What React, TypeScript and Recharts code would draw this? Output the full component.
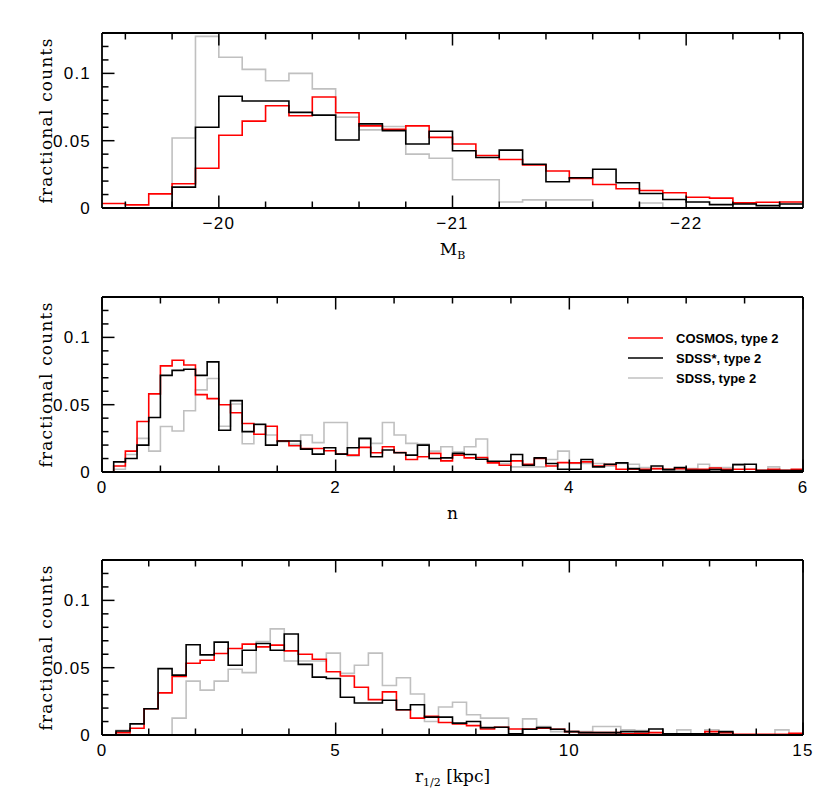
import React from 'react';
import { LineChart, Line, XAxis, YAxis, Legend } from 'recharts';

// ---------- series meta ----------
const SERIES_KEYS = ['cosmos', 'sdssStar', 'sdss'];
const SERIES_NAMES: Record<string, string> = {
  cosmos: 'COSMOS, type 2',
  sdssStar: 'SDSS*, type 2',
  sdss: 'SDSS, type 2',
};
const SERIES_COLORS: Record<string, string> = {
  cosmos: '#ff0000',
  sdssStar: '#000000',
  sdss: '#c0c0c0',
};
const DRAW_ORDER = ['sdss', 'cosmos', 'sdssStar'];

// ---------- panel 1 : M_B (bins of 0.1 mag, from -19.5 to -22.5) ----------
const MB_BIN_START = -19.5;
const MB_BIN_WIDTH = -0.1;
const MB_COSMOS = [0.0033, 0.0023, 0.0105, 0.018, 0.0295, 0.054, 0.0645, 0.076, 0.0685, 0.0825,
  0.0708, 0.061, 0.0585, 0.061, 0.0525, 0.0475, 0.039, 0.036, 0.032, 0.0275,
  0.022, 0.0175, 0.0143, 0.013, 0.0113, 0.008, 0.0073, 0.0038, 0.0043, 0.0045];
const MB_SDSS_STAR = [0, 0, 0, 0.0155, 0.06, 0.083, 0.0795, 0.0795, 0.071, 0.069,
  0.0505, 0.0625, 0.0575, 0.0475, 0.057, 0.0425, 0.0375, 0.043, 0.0325, 0.0195,
  0.0225, 0.0288, 0.0188, 0.0108, 0.0063, 0.0045, 0.0025, 0.003, 0.0018, 0.003];
const MB_SDSS = [0, 0, 0, 0.052, 0.1275, 0.112, 0.103, 0.0945, 0.1, 0.0885,
  0.0675, 0.058, 0.0605, 0.04, 0.037, 0.021, 0.021, 0.0045, 0.006, 0.006,
  0.006, 0, 0, 0.0037, 0, 0, 0, 0, 0, 0];
const MB_DOMAIN = [-22.5, -19.5];
const MB_TICKS = [-19.6, -19.8, -20, -20.2, -20.4, -20.6, -20.8, -21, -21.2, -21.4, -21.6, -21.8, -22, -22.2, -22.4];
const MB_MAJOR = [-20, -21, -22];
const MB_LABELS = ['\u221220', '\u221221', '\u221222'];

// ---------- panel 2 : Sersic n (bins of 0.1, from 0 to 6) ----------
const N_BIN_START = 0;
const N_BIN_WIDTH = 0.1;
const N_COSMOS = [0, 0.0045, 0.0155, 0.0375, 0.058, 0.0788, 0.083, 0.0795, 0.0575, 0.0545,
  0.05, 0.044, 0.036, 0.028, 0.034, 0.023, 0.0195, 0.0175, 0.0175, 0.0158,
  0.0133, 0.0125, 0.0183, 0.0143, 0.0188, 0.0145, 0.0093, 0.0113, 0.0138, 0.0083,
  0.0125, 0.0105, 0.0108, 0.0068, 0.005, 0.0083, 0.0058, 0.01, 0.0045, 0.007,
  0.0068, 0.0075, 0.0045, 0.0055, 0.002, 0.002, 0.002, 0.0025, 0.002, 0.0025,
  0.002, 0.002, 0.003, 0.002, 0.002, 0.002, 0.0013, 0.002, 0.0013, 0.002];
const N_SDSS_STAR = [0, 0.0075, 0.01, 0.02, 0.0405, 0.0718, 0.0755, 0.0763, 0.0718, 0.0818,
  0.031, 0.053, 0.03, 0.0355, 0.02, 0.023, 0.023, 0.017, 0.0133, 0.018,
  0.0133, 0.018, 0.025, 0.0113, 0.0163, 0.0143, 0.0125, 0.02, 0.01, 0.0105,
  0.0138, 0.013, 0.0095, 0.008, 0.008, 0.013, 0.005, 0.0105, 0.0063, 0.002,
  0.002, 0.0093, 0.0038, 0.0058, 0.0068, 0.0025, 0.0013, 0.0045, 0.0018, 0.0033,
  0.0013, 0.0013, 0.0018, 0.0013, 0.0055, 0.0058, 0.001, 0.001, 0.001, 0.001];
const N_SDSS = [0, 0.002, 0.013, 0.025, 0.0155, 0.0338, 0.0305, 0.0455, 0.061, 0.0695,
  0.034, 0.0505, 0.021, 0.035, 0.0275, 0.0225, 0.0205, 0.0275, 0.0218, 0.0368,
  0.0368, 0.012, 0.0245, 0.0213, 0.0368, 0.0275, 0.0213, 0.0208, 0.0155, 0.0188,
  0.015, 0.0188, 0.0245, 0.0075, 0.0063, 0.0038, 0.0038, 0.0038, 0.0093, 0.0155,
  0.0063, 0.0063, 0.0063, 0.0043, 0.0063, 0.0058, 0.0033, 0.002, 0.0013, 0.0013,
  0.0025, 0.0058, 0.0033, 0.0033, 0.0058, 0.002, 0.001, 0.0038, 0.001, 0.001];
const N_DOMAIN = [0, 6];
const N_TICKS = [0, 0.5, 1, 1.5, 2, 2.5, 3, 3.5, 4, 4.5, 5, 5.5, 6];
const N_MAJOR = [0, 2, 4, 6];
const N_LABELS = ['0', '2', '4', '6'];

// ---------- panel 3 : r_1/2 (bins of 0.3 kpc, from 0 to 15) ----------
const R_BIN_START = 0;
const R_BIN_WIDTH = 0.3;
const R_COSMOS = [0, 0.0018, 0.005, 0.0195, 0.0313, 0.0435, 0.0533, 0.0555, 0.0605, 0.0643,
  0.0675, 0.0655, 0.0668, 0.0625, 0.06, 0.0563, 0.047, 0.0438, 0.0355, 0.0263,
  0.032, 0.0188, 0.0125, 0.0138, 0.0093, 0.0083, 0.007, 0.0045, 0.0058, 0.0045,
  0.0045, 0.005, 0.0043, 0.0025, 0.0018, 0.0018, 0.0018, 0.0008, 0.0013, 0.0018,
  0.0008, 0.0008, 0.0008, 0.0025, 0.0018, 0.0005, 0.0005, 0.0005, 0.0005, 0.0013];
const R_SDSS_STAR = [0, 0.003, 0.0083, 0.0195, 0.0493, 0.0445, 0.067, 0.0595, 0.069, 0.0518,
  0.063, 0.068, 0.063, 0.075, 0.0525, 0.043, 0.042, 0.028, 0.0238, 0.0238,
  0.0258, 0.0188, 0.0225, 0.0133, 0.0133, 0.0088, 0.01, 0.0055, 0.0058, 0.0008,
  0.0043, 0.0055, 0.0043, 0.0025, 0.0018, 0.0018, 0.0018, 0.0025, 0.0025, 0.0045,
  0.0008, 0.0008, 0.0008, 0.0008, 0.0025, 0, 0, 0, 0, 0];
const R_SDSS = [0, 0.0035, 0, 0, 0, 0.0125, 0.04, 0.0333, 0.04, 0.0488,
  0.0463, 0.0695, 0.0788, 0.055, 0.055, 0.055, 0.0608, 0.0458, 0.0518, 0.0608,
  0.0368, 0.0425, 0.0305, 0.01, 0.0208, 0.0243, 0.015, 0.0125, 0.0125, 0.0008,
  0.012, 0.0063, 0.0025, 0.0025, 0.0025, 0.0063, 0.0063, 0.0038, 0.0033, 0.0018,
  0.0008, 0.0038, 0.0008, 0.0038, 0.0008, 0, 0, 0, 0.0038, 0];
const R_DOMAIN = [0, 15];
const R_TICKS = [0, 1, 2, 3, 4, 5, 6, 7, 8, 9, 10, 11, 12, 13, 14, 15];
const R_MAJOR = [0, 5, 10, 15];
const R_LABELS = ['0', '5', '10', '15'];

// ---------- y axis (shared) ----------
const Y_DOMAIN = [0, 0.13];
const Y_TICKS = [0, 0.01, 0.02, 0.03, 0.04, 0.05, 0.06, 0.07, 0.08, 0.09, 0.1, 0.11, 0.12, 0.13];
const Y_MAJOR = [0, 0.05, 0.1];
const Y_LABELS = ['0', '0.05', '0.1'];

// ---------- helpers ----------
function buildRows(start: number, width: number, cosmos: number[], star: number[], sdss: number[]) {
  const n = cosmos.length;
  const rows: any[] = [];
  for (let i = 0; i <= n; i++) {
    const j = Math.min(i, n - 1);
    rows.push({ x: +(start + i * width).toFixed(4), cosmos: cosmos[j], sdssStar: star[j], sdss: sdss[j] });
  }
  return rows;
}

function majorIndex(v: number, majors: number[]) {
  for (let i = 0; i < majors.length; i++) if (Math.abs(majors[i] - v) < 1e-6) return i;
  return -1;
}

const TICK_FONT = "'Liberation Sans', Arial, sans-serif";
const TITLE_FONT = "'DejaVu Serif', 'Liberation Serif', serif";
const MAJOR_LEN = 12.5;
const MINOR_LEN = 6.5;
const TICK_W = 1.5;

// Inward tick marks (and labels on bottom / left), drawn per axis tick
function bottomTick(majors: number[], labels: string[]) {
  return (props: any) => {
    const { x, y, payload } = props;
    const mi = majorIndex(payload.value, majors);
    const len = mi >= 0 ? MAJOR_LEN : MINOR_LEN;
    return (
      <g>
        <line x1={x} x2={x} y1={y} y2={y - len} stroke="#000" strokeWidth={TICK_W} />
        {mi >= 0 ? (
          <text x={x} y={y + 21} textAnchor="middle" fontFamily={TICK_FONT} fontSize={17} letterSpacing={1.2} fill="#000">
            {labels[mi]}
          </text>
        ) : null}
      </g>
    );
  };
}

function topTick(majors: number[]) {
  return (props: any) => {
    const { x, y, payload } = props;
    const len = majorIndex(payload.value, majors) >= 0 ? MAJOR_LEN : MINOR_LEN;
    return (
      <g>
        <line x1={x} x2={x} y1={y} y2={y + len} stroke="#000" strokeWidth={TICK_W} />
      </g>
    );
  };
}

function leftTick(majors: number[], labels: string[]) {
  return (props: any) => {
    const { x, y, payload } = props;
    const mi = majorIndex(payload.value, majors);
    const len = mi >= 0 ? MAJOR_LEN : MINOR_LEN;
    return (
      <g>
        <line x1={x} x2={x + len} y1={y} y2={y} stroke="#000" strokeWidth={TICK_W} />
        {mi >= 0 ? (
          <text x={x - 11} y={y + 6} textAnchor="end" fontFamily={TICK_FONT} fontSize={17} letterSpacing={1.2} fill="#000">
            {labels[mi]}
          </text>
        ) : null}
      </g>
    );
  };
}

function rightTick(majors: number[]) {
  return (props: any) => {
    const { x, y, payload } = props;
    const len = majorIndex(payload.value, majors) >= 0 ? MAJOR_LEN : MINOR_LEN;
    return (
      <g>
        <line x1={x} x2={x - len} y1={y} y2={y} stroke="#000" strokeWidth={TICK_W} />
      </g>
    );
  };
}

function LegendBox() {
  return (
    <div style={{ width: 190 }}>
      <svg width={190} height={64}>
        {SERIES_KEYS.map((k, i) => (
          <g key={k}>
            <line x1={0} x2={35} y1={8 + i * 20} y2={8 + i * 20} stroke={SERIES_COLORS[k]} strokeWidth={1.5} />
            <text x={48} y={13 + i * 20} fontFamily={TICK_FONT} fontWeight="bold" fontSize={13} fill="#000">
              {SERIES_NAMES[k]}
            </text>
          </g>
        ))}
      </svg>
    </div>
  );
}

type PanelProps = {
  top: number;
  rows: any[];
  xDomain: number[];
  reversed?: boolean;
  xTicks: number[];
  xMajor: number[];
  xLabels: string[];
  title: React.ReactNode;
  legend?: boolean;
};

const AXIS_LINE = { stroke: '#000', strokeWidth: 1.8 };

function Panel({ top, rows, xDomain, reversed, xTicks, xMajor, xLabels, title, legend }: PanelProps) {
  return (
    <div style={{ position: 'absolute', left: 0, top, width: 830, height: 265 }}>
      <LineChart width={830} height={265} data={rows} margin={{ top: 23, right: 17, bottom: 0, left: 0 }}>
        {DRAW_ORDER.map((k) => (
          <Line
            key={k}
            type="stepAfter"
            dataKey={k}
            name={SERIES_NAMES[k]}
            stroke={SERIES_COLORS[k]}
            strokeWidth={1.6}
            dot={false}
            activeDot={false}
            isAnimationActive={false}
          />
        ))}
        <XAxis
          dataKey="x"
          type="number"
          domain={xDomain}
          reversed={!!reversed}
          ticks={xTicks}
          interval={0}
          height={57}
          tickSize={0}
          tickMargin={0}
          tickLine={false}
          stroke="#000"
          axisLine={AXIS_LINE}
          tick={bottomTick(xMajor, xLabels)}
          label={(p: any) => {
            const vb = p.viewBox || { x: 102, y: 208, width: 701 };
            return (
              <text x={vb.x + vb.width / 2} y={vb.y + 47} textAnchor="middle" fontFamily={TITLE_FONT} fontSize={17} fill="#000">
                {title}
              </text>
            );
          }}
        />
        <XAxis
          xAxisId="top"
          orientation="top"
          dataKey="x"
          type="number"
          domain={xDomain}
          reversed={!!reversed}
          ticks={xTicks}
          interval={0}
          height={10}
          tickSize={0}
          tickMargin={0}
          tickLine={false}
          stroke="#000"
          axisLine={AXIS_LINE}
          tick={topTick(xMajor)}
        />
        <YAxis
          type="number"
          domain={Y_DOMAIN}
          ticks={Y_TICKS}
          interval={0}
          width={102}
          tickSize={0}
          tickMargin={0}
          tickLine={false}
          stroke="#000"
          axisLine={AXIS_LINE}
          tick={leftTick(Y_MAJOR, Y_LABELS)}
          label={(p: any) => {
            const vb = p.viewBox || { x: 0, y: 33, width: 102, height: 175 };
            const cy = vb.y + vb.height / 2;
            return (
              <text x={52} y={cy} transform={`rotate(-90 52 ${cy})`} textAnchor="middle" fontFamily={TITLE_FONT} fontSize={17} letterSpacing={1.2} fill="#000">
                fractional counts
              </text>
            );
          }}
        />
        <YAxis
          yAxisId="right"
          orientation="right"
          type="number"
          domain={Y_DOMAIN}
          ticks={Y_TICKS}
          interval={0}
          width={10}
          tickSize={0}
          tickMargin={0}
          tickLine={false}
          stroke="#000"
          axisLine={AXIS_LINE}
          tick={rightTick(Y_MAJOR)}
        />
        {legend && (
          <Legend
            layout="horizontal"
            align="center"
            verticalAlign="middle"
            wrapperStyle={{ position: 'absolute', left: 628, top: 66, width: 190, height: 64 }}
            content={() => <LegendBox />}
          />
        )}
      </LineChart>
    </div>
  );
}

const ROWS_MB = buildRows(MB_BIN_START, MB_BIN_WIDTH, MB_COSMOS, MB_SDSS_STAR, MB_SDSS);
const ROWS_N = buildRows(N_BIN_START, N_BIN_WIDTH, N_COSMOS, N_SDSS_STAR, N_SDSS);
const ROWS_R = buildRows(R_BIN_START, R_BIN_WIDTH, R_COSMOS, R_SDSS_STAR, R_SDSS);

export default function App() {
  return (
    <div style={{ position: 'absolute', left: 0, top: 0, width: 830, height: 801, background: '#fff' }}>
      <Panel
        top={0}
        rows={ROWS_MB}
        xDomain={MB_DOMAIN}
        reversed
        xTicks={MB_TICKS}
        xMajor={MB_MAJOR}
        xLabels={MB_LABELS}
        title={
          <>
            <tspan>M</tspan>
            <tspan fontSize={11} dy={4}>B</tspan>
          </>
        }
      />
      <Panel
        top={264}
        rows={ROWS_N}
        xDomain={N_DOMAIN}
        xTicks={N_TICKS}
        xMajor={N_MAJOR}
        xLabels={N_LABELS}
        title="n"
        legend
      />
      <Panel
        top={527}
        rows={ROWS_R}
        xDomain={R_DOMAIN}
        xTicks={R_TICKS}
        xMajor={R_MAJOR}
        xLabels={R_LABELS}
        title={
          <>
            <tspan>r</tspan>
            <tspan fontSize={11} dy={4}>1/2</tspan>
            <tspan dy={-4}> [kpc]</tspan>
          </>
        }
      />
    </div>
  );
}
